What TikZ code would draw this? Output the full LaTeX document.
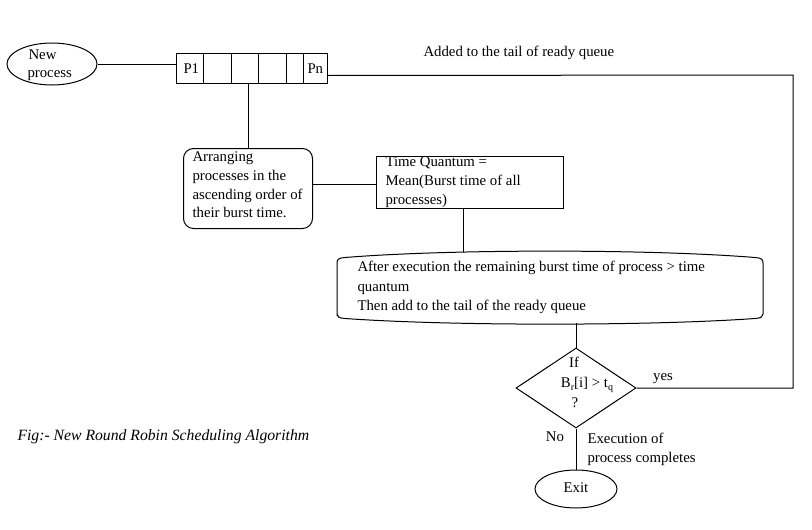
\documentclass[tikz,border=0pt]{standalone}
\usepackage{fontspec}
\setmainfont{Liberation Serif}
\usetikzlibrary{shapes.geometric}
\begin{document}
\begin{tikzpicture}[x=1pt,y=-1pt,line width=1pt,
  txt/.style={inner sep=0pt,anchor=west,text height=10.5pt,text depth=3.5pt,font=\fontsize{14.8}{17}\selectfont},
  ctxt/.style={txt,anchor=center},
  bx/.style={draw,inner sep=0pt}]
\fill[white] (0,0) rectangle (812,530);
\useasboundingbox (0,0) rectangle (812,530);

% New process
\node[bx,ellipse,minimum width=90pt,minimum height=42pt] (new) at (52,64) {};
\node[txt] (newa) at (28,56) {New};
\node[txt] (newb) at (27,74) {process};

% queue
\node[bx,minimum width=151pt,minimum height=30pt,anchor=north west] (q) at (176,53) {};
\foreach \xx in {203,231,258,286,303}{\draw (\xx,53) -- (\xx,83);}
\node[txt] (p1) at (183,70) {P1};
\node[txt] (pn) at (307,70) {Pn};
\draw (new.east) -- (new.east -| q.west);

\node[txt] (added) at (423,53) {Added to the tail of ready queue};

% arranging box
\node[bx,rounded corners=10pt,minimum width=129pt,minimum height=80pt,anchor=north west] (arr) at (183,148) {};
\node[txt] (a1) at (192,158) {Arranging};
\node[txt] (a2) at (192,177) {processes in the};
\node[txt] (a3) at (192,196) {ascending order of};
\node[txt] (a4) at (192,214) {their burst time.};
\draw (arr.north |- q.south) -- (arr.north);

% time quantum box
\node[bx,minimum width=187pt,minimum height=52pt,anchor=north west] (tq) at (376,156) {};
\node[txt] (t1) at (385,163) {Time Quantum =};
\node[txt] (t2) at (385,182) {Mean(Burst time of all};
\node[txt] (t3) at (385,201) {processes)};
\draw ([yshift=4pt]arr.east) -- ([yshift=4pt]arr.east -| tq.west);

% big box
\draw (337,316) -- (337,263) .. controls (337,259) and (339,258) .. (345,257.5)
  .. controls (450,249) and (650,249) .. (755,257.5)
  .. controls (761,258) and (763,259) .. (763,263) -- (763,314)
  .. controls (763,317) and (761,318) .. (755,318.5)
  .. controls (650,326) and (450,326) .. (345,318.5)
  .. controls (339,318) and (337,317) .. (337,314) -- cycle;
\coordinate (bigtop) at (463,252);
\coordinate (bigbot) at (576,323);
\node[txt] (b1) at (357,268) {After execution the remaining burst time of process > time};
\node[txt] (b2) at (357,288) {quantum};
\node[txt] (b3) at (357,307) {Then add to the tail of the ready queue};
\draw (tq.south -| bigtop) -- (bigtop);

% decision
\node[bx,diamond,minimum width=120pt,minimum height=80pt] (dia) at (576,388) {};
\node[ctxt] (d1) at (574,364) {If};
\node[ctxt] (d2) at (587,384) {B\raisebox{-2.5pt}{\fontsize{10}{10}\selectfont r}[i] > t\raisebox{-2.5pt}{\fontsize{10}{10}\selectfont q}};
\node[ctxt] (d3) at (575,404) {?};
\draw (bigbot) -- (dia.north);

\coordinate (turn) at (793,75);
\draw ([yshift=-7pt]q.east) -- (turn) |- (dia.east);
\node[ctxt] (yes) at (663,377) {yes};

% exit
\node[bx,ellipse,minimum width=82pt,minimum height=38pt] (exit) at (576,489) {};
\node[ctxt] (exitt) at (576,489) {Exit};
\draw (dia.south) -- (exit.north);
\node[ctxt] (no) at (555,438) {No};
\node[txt] (e1) at (587,440) {Execution of};
\node[txt] (e2) at (587,459) {process completes};

% caption
\node[txt,font=\fontsize{15.7}{18}\selectfont\itshape] (cap) at (17,437) {Fig:- New Round Robin Scheduling Algorithm};
\end{tikzpicture}
\end{document}
